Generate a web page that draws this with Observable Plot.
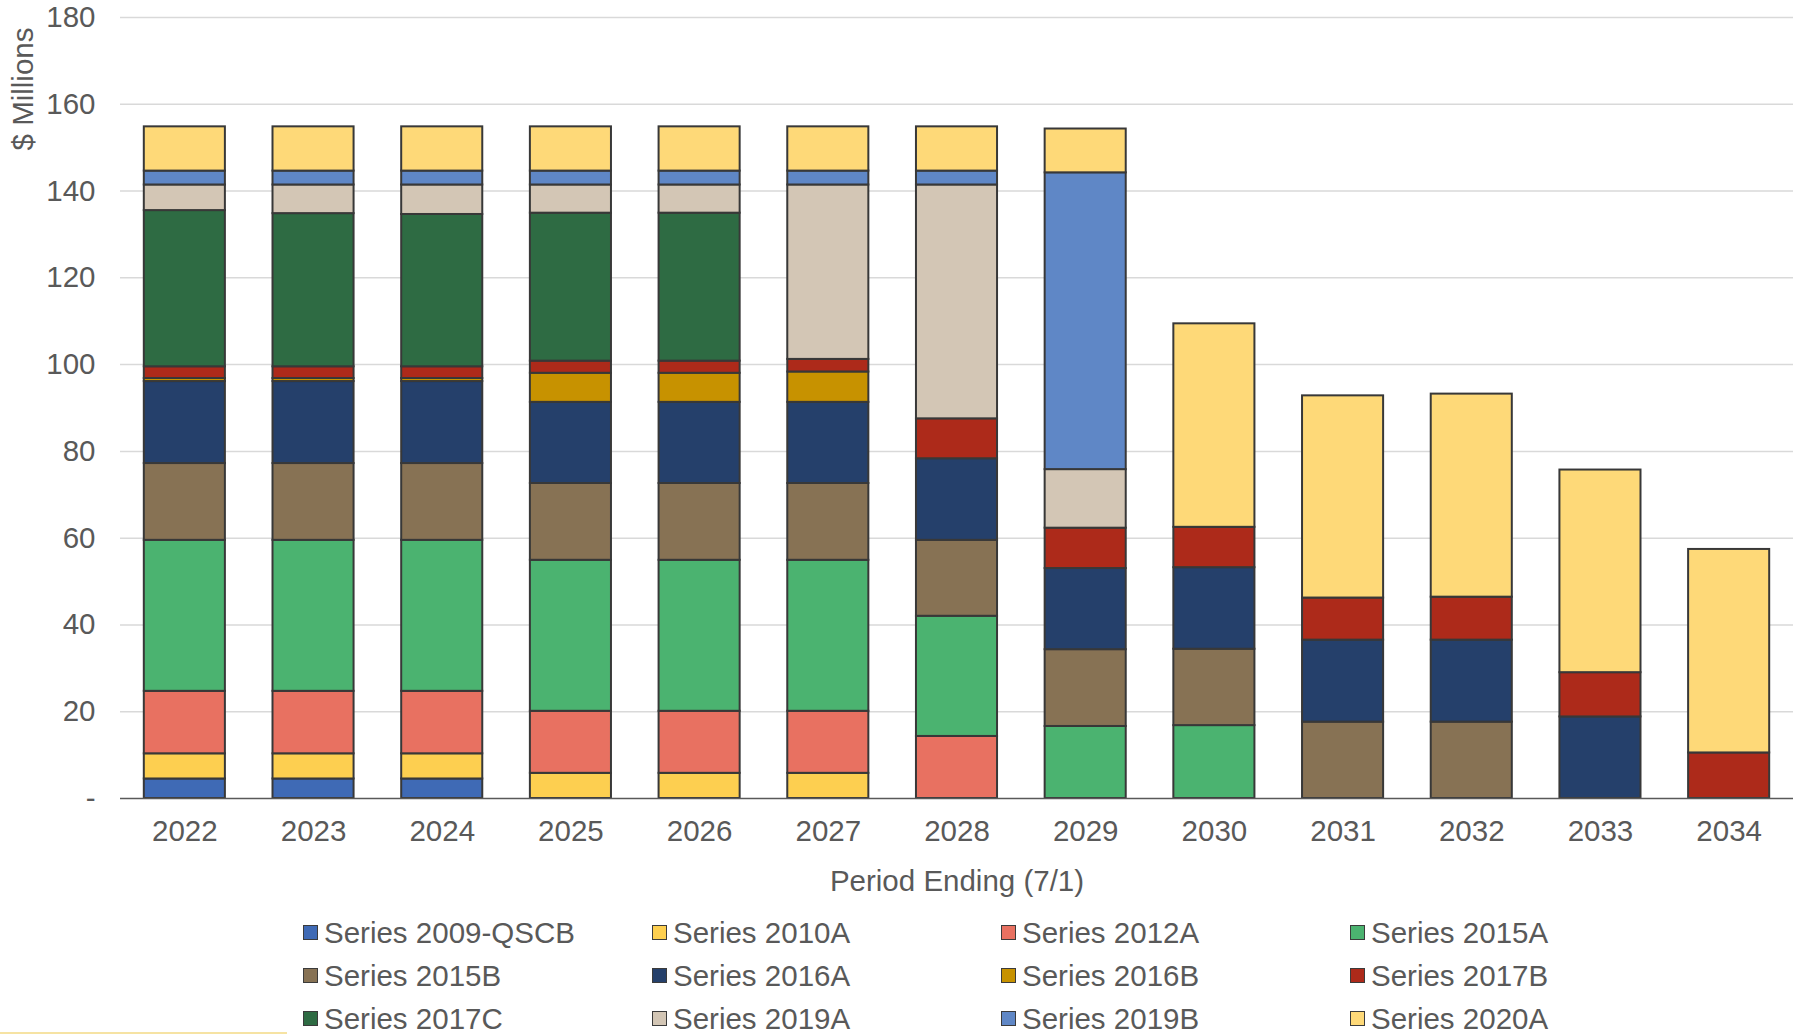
<!DOCTYPE html>
<html>
<head>
<meta charset="utf-8">
<script src="https://cdn.jsdelivr.net/npm/d3@7"></script>
<script src="https://cdn.jsdelivr.net/npm/@observablehq/plot@0.6"></script>
<style>
  html, body { margin: 0; padding: 0; background: #fff; }
  body { width: 1800px; height: 1034px; position: relative; overflow: hidden;
         font-family: "Liberation Sans", Arial, sans-serif; }
  #chart { position: absolute; left: 0; top: 0; }
  #legend { position: absolute; left: 303px; top: 911px;
            display: grid; grid-template-columns: repeat(4, 349px);
            grid-auto-rows: 43px; }
  .item { display: flex; align-items: center; font-size: 29.5px; color: #595959;
          white-space: nowrap; }
  .sw { width: 13px; height: 13px; border: 1.5px solid #3b3b3b; margin-right: 6px; flex: none; }
  #edge { position: absolute; left: 0; top: 1032px; width: 287px; height: 2px; background: #f6e3a3; }
</style>
</head>
<body>
<div id="chart"></div>
<div id="legend"></div>
<div id="edge"></div>
<script>
// Fiscal years (period ending 7/1)
const years = [2022, 2023, 2024, 2025, 2026, 2027, 2028, 2029, 2030, 2031, 2032, 2033, 2034];

// Debt service by bond series, $ millions, one value per year
const s2009QSCB = [4.5, 4.5, 4.5, 0, 0, 0, 0, 0, 0, 0, 0, 0, 0];
const s2010A    = [5.8, 5.8, 5.8, 5.8, 5.8, 5.8, 0, 0, 0, 0, 0, 0, 0];
const s2012A    = [14.4, 14.4, 14.4, 14.3, 14.3, 14.3, 14.3, 0, 0, 0, 0, 0, 0];
const s2015A    = [34.8, 34.8, 34.8, 34.8, 34.8, 34.8, 27.7, 16.6, 16.8, 0, 0, 0, 0];
const s2015B    = [17.7, 17.7, 17.7, 17.7, 17.7, 17.7, 17.5, 17.7, 17.6, 17.6, 17.6, 0, 0];
const s2016A    = [18.9, 18.9, 18.9, 18.7, 18.7, 18.7, 18.8, 18.7, 18.8, 18.9, 18.9, 18.8, 0];
const s2016B    = [0.7, 0.7, 0.7, 6.7, 6.7, 7.0, 0, 0, 0, 0, 0, 0, 0];
const s2017B    = [2.7, 2.7, 2.7, 2.8, 2.8, 2.9, 9.2, 9.3, 9.3, 9.7, 9.9, 10.2, 10.5];
const s2017C    = [36.0, 35.3, 35.1, 34.1, 34.1, 0, 0, 0, 0, 0, 0, 0, 0];
const s2019A    = [5.9, 6.6, 6.8, 6.5, 6.5, 40.2, 53.9, 13.5, 0, 0, 0, 0, 0];
const s2019B    = [3.2, 3.2, 3.2, 3.2, 3.2, 3.2, 3.2, 68.4, 0, 0, 0, 0, 0];
const s2020A    = [10.2, 10.2, 10.2, 10.2, 10.2, 10.2, 10.2, 10.1, 46.9, 46.6, 46.8, 46.7, 46.9];

const seriesNames = [
  "Series 2009-QSCB", "Series 2010A", "Series 2012A", "Series 2015A",
  "Series 2015B", "Series 2016A", "Series 2016B", "Series 2017B",
  "Series 2017C", "Series 2019A", "Series 2019B", "Series 2020A"
];
const seriesValues = [
  s2009QSCB, s2010A, s2012A, s2015A, s2015B, s2016A,
  s2016B, s2017B, s2017C, s2019A, s2019B, s2020A
];
const seriesColors = [
  "#3f6ab5", "#fdcf50", "#e87161", "#4bb370", "#877254", "#25406b",
  "#c79200", "#ad2a1a", "#2e6b43", "#d3c6b5", "#5f87c6", "#fed978"
];

const yTicks = [0, 20, 40, 60, 80, 100, 120, 140, 160, 180];

// Long table: one row per (year, series), stacked in series order
const rows = [];
years.forEach((yr, i) => {
  seriesNames.forEach((name, j) => {
    const v = seriesValues[j][i];
    if (v > 0) rows.push({year: String(yr), series: name, value: v});
  });
});

const textColor = "#595959";

const chart = Plot.plot({
  width: 1800,
  height: 900,
  marginTop: 17,
  marginBottom: 102,
  marginLeft: 120,
  marginRight: 7,
  style: {fontFamily: "'Liberation Sans', Arial, sans-serif", fontSize: "29.5px", color: textColor, background: "#fff"},
  x: {
    domain: years.map(String),
    paddingInner: 0.37,
    paddingOuter: 0.185,
    round: false,
    label: "Period Ending (7/1)",
    labelAnchor: "center",
    labelOffset: 92,
    tickSize: 0,
    tickPadding: 22
  },
  y: {
    domain: [0, 180],
    ticks: yTicks,
    tickFormat: d => d === 0 ? "-" : d,
    tickSize: 0,
    tickPadding: 25,
    label: null
  },
  color: {domain: seriesNames, range: seriesColors},
  marks: [
    Plot.gridY(yTicks.filter(d => d > 0), {stroke: "#d9d9d9", strokeOpacity: 1, strokeWidth: 1.5}),
    Plot.barY(rows, {
      x: "year",
      y: "value",
      fill: "series",
      order: seriesNames,
      stroke: "#383838",
      strokeWidth: 2
    }),
    Plot.ruleY([0], {stroke: "#595959", strokeWidth: 1.5}),
    Plot.text(["$ Millions"], {
      text: d => d,
      frameAnchor: "top-left",
      rotate: -90,
      textAnchor: "end",
      dx: -108,
      dy: 10,
      fill: textColor,
      fontSize: 29.5
    })
  ]
});
document.getElementById("chart").appendChild(chart);

// Legend: four columns, three rows, in series order
const legend = document.getElementById("legend");
seriesNames.forEach((name, j) => {
  const item = document.createElement("div");
  item.className = "item";
  const sw = document.createElement("span");
  sw.className = "sw";
  sw.style.background = seriesColors[j];
  item.appendChild(sw);
  item.appendChild(document.createTextNode(name));
  legend.appendChild(item);
});
</script>
</body>
</html>
